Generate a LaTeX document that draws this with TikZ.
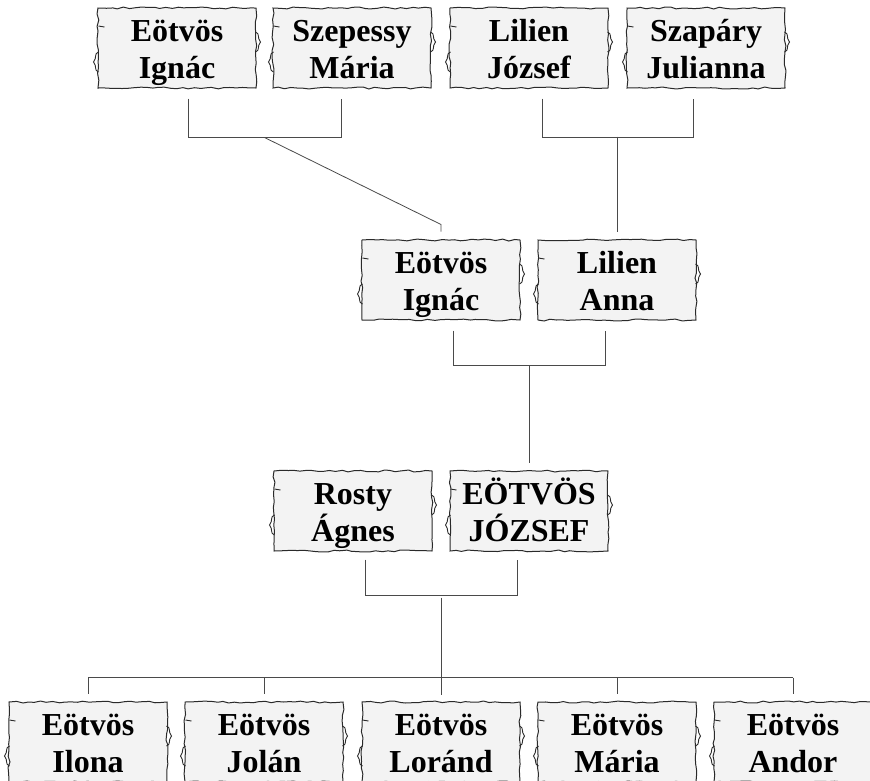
\documentclass[tikz,border=0pt]{standalone}
\usepackage{fontspec}
\setmainfont{Liberation Serif}
\usetikzlibrary{decorations.pathmorphing,calc}
\definecolor{paper}{HTML}{F3F3F3}
\definecolor{edge}{HTML}{2A2A2A}
\definecolor{wire}{HTML}{4A4A4A}
\newcommand{\twoline}[2]{\rule{0pt}{33pt}#1\\#2\rule[-10pt]{0pt}{10pt}}
\begin{document}
\begin{tikzpicture}[x=1pt,y=-1pt,
  person/.style={draw=edge, fill=paper, line width=1pt,
    minimum width=158pt, minimum height=80pt, inner sep=0pt,
    align=center, font=\bfseries\fontsize{32}{37}\selectfont,
    decorate, decoration={random steps, segment length=6pt, amplitude=1pt}},
  wire/.style={draw=wire, line width=0.8pt},
  curl/.style={draw=edge, line width=0.9pt}]
\pgfmathsetseed{11}
\useasboundingbox (0,0) rectangle (870,780);

% top row
\node[person] (a1) at (177,48) {\twoline{Eötvös}{Ignác}};
\node[person] (a2) at (352,48) {\twoline{Szepessy}{Mária}};
\node[person] (a3) at (529,48) {\twoline{Lilien}{József}};
\node[person] (a4) at (706,48) {\twoline{Szapáry}{Julianna}};
% middle row
\node[person] (b1) at (441,280) {\twoline{Eötvös}{Ignác}};
\node[person] (b2) at (617,280) {\twoline{Lilien}{Anna}};
% third row
\node[person] (c1) at (353,511) {\twoline{Rosty}{Ágnes}};
\node[person] (c2) at (529,511) {\twoline{EÖTVÖS}{JÓZSEF}};
% bottom row
\node[person] (d1) at (88,742) {\twoline{Eötvös}{Ilona}};
\node[person] (d2) at (264,742) {\twoline{Eötvös}{Jolán}};
\node[person] (d3) at (441,742) {\twoline{Eötvös}{Loránd}};
\node[person] (d4) at (617,742) {\twoline{Eötvös}{Mária}};
\node[person] (d5) at (793,742) {\twoline{Eötvös}{Andor}};

% side curls
\foreach \n in {a1,a2,a3,a4,b1,b2,c1,c2,d1,d2,d3,d4,d5}{
  \draw[curl] ($(\n.east)+(-1,-16)$) .. controls +(5,2) and +(-4,-5) .. ($(\n.east)+(4,-6)$)
      .. controls +(-4,5) and +(5,-2) .. ($(\n.east)+(-1,4)$);
  \draw[curl] ($(\n.west)+(1,4)$) .. controls +(-5,2) and +(4,-5) .. ($(\n.west)+(-4,14)$)
      .. controls +(4,5) and +(-5,-2) .. ($(\n.west)+(1,24)$);
  \draw[curl] ($(\n.west)+(1,-22)$) -- ++(6,1);
}

% connectors: top left couple -> b1
\draw[wire] ($(a1.south)+(11,10)$) -- ++(0,39) -| ($(a2.south)+(-11,10)$);
\coordinate (j1) at ($(a1.south)!0.5!(a2.south)+(0,49)$);
\draw[wire] (j1) -- ($(b1.north)+(0,-15)$) -- ($(b1.north)+(0,-8)$);
% top right couple -> b2
\draw[wire] ($(a3.south)+(13,10)$) -- ++(0,39) -| ($(a4.south)+(-13,10)$);
\draw[wire] ($(b2.north)+(0,-103)$) -- ($(b2.north)+(0,-8)$);
% middle couple -> c2
\draw[wire] ($(b1.south)+(12,10)$) -- ++(0,35) -| ($(b2.south)+(-12,10)$);
\draw[wire] ($(c2.north)+(0,-105)$) -- ($(c2.north)+(0,-8)$);
% third couple -> children
\draw[wire] ($(c1.south)+(12,8)$) -- ++(0,36) -| ($(c2.south)+(-12,8)$);
\draw[wire] ($(d3.north)+(0,-104)$) -- ($(d3.north)+(0,-7)$);
\draw[wire] ($(d1.north)+(0,-24)$) -- ($(d5.north)+(0,-24)$);
\foreach \n in {d1,d2,d3,d4,d5}{
  \draw[wire] ($(\n.north)+(0,-24)$) -- ($(\n.north)+(0,-8)$);
}
\end{tikzpicture}
\end{document}
